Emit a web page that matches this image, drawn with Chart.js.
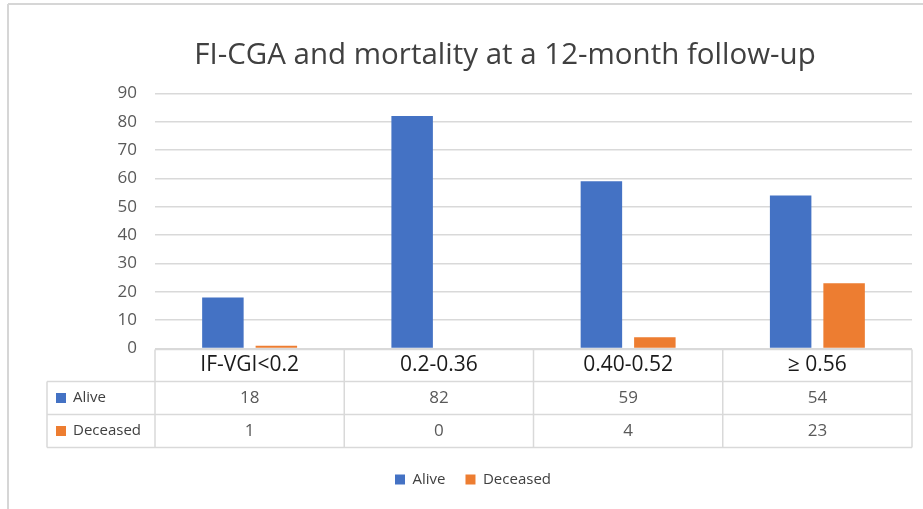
<!DOCTYPE html>
<html><head><meta charset="utf-8">
<script src="https://cdn.jsdelivr.net/npm/chart.js@4/dist/chart.umd.min.js"></script>
<style>html,body{margin:0;padding:0;background:#fff;}#wrap{position:relative;width:923px;height:509px;}</style>
</head><body><div id="wrap"><canvas id="c" width="923" height="509"></canvas></div>
<script>
const categories = ['IF-VGI<0.2', '0.2-0.36', '0.40-0.52', '≥ 0.56'];
const aliveValues = [18, 82, 59, 54];
const deceasedValues = [1, 0, 4, 23];
const seriesNames = ['Alive', 'Deceased'];
const seriesColors = ['#4472C4', '#ED7D31'];
const yMin = 0, yMax = 90, yStep = 10;
const titleText = 'FI-CGA and mortality at a 12-month follow-up';

const FONT = "'Open Sans', 'Noto Sans', sans-serif";
const GRID = '#d9d9d9';

const tablePlugin = {
  id: 'dataTable',
  beforeDraw(chart) {
    const ctx = chart.ctx;
    ctx.save();
    ctx.fillStyle = '#fff';
    ctx.fillRect(0, 0, chart.width, chart.height);
    ctx.strokeStyle = '#d6d6d6';
    ctx.lineWidth = 2;
    ctx.beginPath();
    ctx.moveTo(8, 4); ctx.lineTo(chart.width, 4);
    ctx.moveTo(8, 4); ctx.lineTo(8, chart.height);
    ctx.stroke();
    ctx.restore();
  },
  afterLayout(chart) {
    const t = chart.titleBlock, l = chart.legend;
    if (t) { const d = 505 - (t.left + t.right) / 2; t.left += d; t.right += d; }
    if (l) { const d = 473 - (l.left + l.right) / 2; l.left += d; l.right += d; }
  },
  afterDraw(chart) {
    const ctx = chart.ctx, ca = chart.chartArea;
    const n = categories.length;
    const cw = (ca.right - ca.left) / n;
    const y0 = ca.bottom + 1, y1 = y0 + 32, y2 = y1 + 33, y3 = y2 + 33;
    const tableLeft = 47;
    ctx.save();
    ctx.strokeStyle = GRID;
    ctx.lineWidth = 1.5;
    ctx.beginPath();
    ctx.moveTo(ca.left, y0); ctx.lineTo(ca.right, y0);
    [y1, y2, y3].forEach(y => { ctx.moveTo(tableLeft, y); ctx.lineTo(ca.right, y); });
    for (let i = 0; i <= n; i++) {
      const x = ca.left + i * cw;
      ctx.moveTo(x, y0); ctx.lineTo(x, y3);
    }
    ctx.moveTo(tableLeft, y1); ctx.lineTo(tableLeft, y3);
    ctx.stroke();

    const rows = [aliveValues, deceasedValues];
    const rowMid = [(y1 + y2) / 2, (y2 + y3) / 2];
    ctx.textBaseline = 'middle';
    rows.forEach((vals, r) => {
      ctx.fillStyle = seriesColors[r];
      ctx.fillRect(56, rowMid[r] - 5, 10, 10);
      ctx.fillStyle = '#404040';
      ctx.font = '15px ' + FONT;
      ctx.textAlign = 'left';
      ctx.fillText(seriesNames[r], 73, rowMid[r]);
      ctx.fillStyle = '#595959';
      ctx.font = '17px ' + FONT;
      ctx.textAlign = 'center';
      vals.forEach((v, i) => {
        ctx.fillText(String(v), chart.scales.x.getPixelForValue(i), rowMid[r]);
      });
    });
    ctx.restore();
  }
};

new Chart(document.getElementById('c'), {
  type: 'bar',
  data: {
    labels: categories,
    datasets: [
      { label: seriesNames[0], data: aliveValues, backgroundColor: seriesColors[0], borderWidth: 0 },
      { label: seriesNames[1], data: deceasedValues, backgroundColor: seriesColors[1], borderWidth: 0 }
    ]
  },
  options: {
    responsive: false,
    animation: false,
    devicePixelRatio: 1,
    datasets: { bar: { categoryPercentage: 0.565, barPercentage: 0.776 } },
    layout: { padding: { left: 0, right: 11, top: 0, bottom: 12 } },
    plugins: {
      tooltip: { enabled: false },
      title: {
        display: true,
        text: titleText,
        color: '#404040',
        font: { family: FONT, size: 29.5, weight: 'normal', lineHeight: 1.2 },
        padding: { top: 38, bottom: 20 }
      },
      legend: {
        display: true,
        position: 'bottom',
        labels: {
          boxWidth: 10, boxHeight: 10, padding: 20,
          color: '#404040',
          font: { family: FONT, size: 15 }
        }
      }
    },
    scales: {
      x: {
        grid: { display: false, drawTicks: false },
        border: { display: false },
        ticks: { color: '#1a1a1a', font: { family: FONT, size: 21, lineHeight: 1.2 }, padding: 4, maxRotation: 0, autoSkip: false },
        afterFit(scale) { scale.height = 103.5; }
      },
      y: {
        min: yMin, max: yMax,
        grid: { color: GRID, lineWidth: 1.5, drawTicks: false },
        border: { display: false },
        ticks: { stepSize: yStep, color: '#595959', font: { family: FONT, size: 17 }, padding: 18 },
        afterFit(scale) { scale.width = 155; }
      }
    }
  },
  plugins: [tablePlugin]
});
</script></body></html>
